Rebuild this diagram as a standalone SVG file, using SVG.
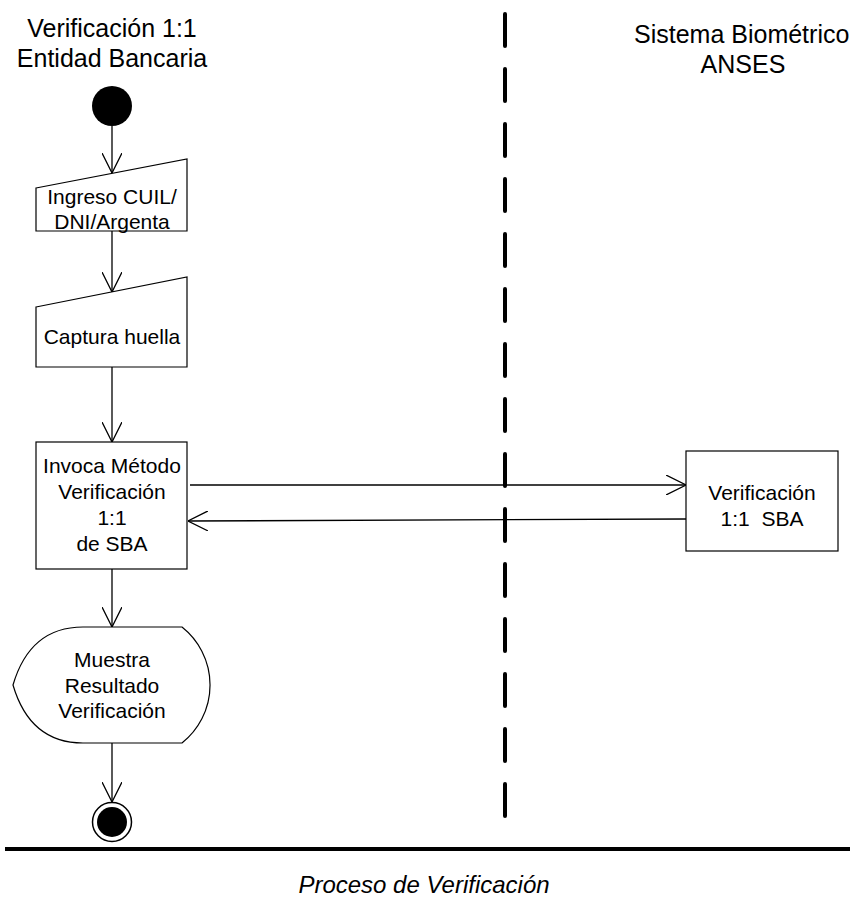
<svg xmlns="http://www.w3.org/2000/svg" width="850" height="904" viewBox="0 0 850 904" font-family="'Liberation Sans', Arial, sans-serif">
<style>
text{font-family:"Liberation Sans",Arial,sans-serif;fill:#000}
.t{font-size:25px;text-anchor:middle}
.n{font-size:21px;text-anchor:middle}
.shape{fill:#fff;stroke:#000;stroke-width:1.2}
.c{fill:none;stroke:#000;stroke-width:1.3}
</style>
<defs>
<marker id="arr" viewBox="0 0 20 20" refX="20" refY="10" markerWidth="20" markerHeight="20" markerUnits="userSpaceOnUse" orient="auto">
<path d="M0,0 L20,10 L0,20" fill="none" stroke="#000" stroke-width="1.3"/>
</marker>
</defs>
<rect width="850" height="904" fill="#fff"/>
<g id="swimlanes">
<text class="t" x="112" y="37">Verificación 1:1</text>
<text class="t" x="112" y="67">Entidad Bancaria</text>
<text class="t" x="634" y="43" style="text-anchor:start">Sistema Biométrico</text>
<text class="t" x="743" y="73">ANSES</text>
<line x1="505" y1="14" x2="505" y2="818" stroke="#000" stroke-width="4" stroke-linecap="round" stroke-dasharray="32 23"/>
<line x1="5" y1="849" x2="850" y2="849" stroke="#000" stroke-width="4"/>
<text x="424" y="893" style="font-size:24px;font-style:italic;text-anchor:middle">Proceso de Verificación</text>
</g>
<g id="start">
<circle cx="112" cy="106" r="20" fill="#000"/>
</g>
<g id="ingreso">
<path class="shape" d="M36,188 L187,159 L187,231 L36,231 Z"/>
<text class="n" x="112" y="204">Ingreso CUIL/</text>
<text class="n" x="112" y="229">DNI/Argenta</text>
</g>
<g id="captura">
<path class="shape" d="M36,307 L187,277 L187,367 L36,367 Z"/>
<text class="n" x="112" y="344">Captura huella</text>
</g>
<g id="invoca">
<rect class="shape" x="36" y="442" width="151" height="127"/>
<text class="n" x="112" y="473">Invoca Método</text>
<text class="n" x="112" y="499">Verificación</text>
<text class="n" x="112" y="525">1:1</text>
<text class="n" x="112" y="551">de SBA</text>
</g>
<g id="sba">
<rect class="shape" x="686" y="451" width="152" height="100"/>
<text class="n" x="762" y="500">Verificación</text>
<text class="n" x="762" y="526" xml:space="preserve">1:1  SBA</text>
</g>
<g id="muestra">
<path class="shape" d="M83,627 L182,627 A74,74 0 0 1 182,743 L83,743 Q30,743 13,685 Q30,627 83,627 Z"/>
<text class="n" x="112" y="667">Muestra</text>
<text class="n" x="112" y="693">Resultado</text>
<text class="n" x="112" y="718">Verificación</text>
</g>
<g id="end">
<circle cx="112" cy="822" r="19.5" fill="#fff" stroke="#000" stroke-width="1.5"/>
<circle cx="112" cy="822" r="15" fill="#000"/>
</g>
<g id="connectors">
<line class="c" x1="112" y1="126" x2="112" y2="173" marker-end="url(#arr)"/>
<line class="c" x1="112" y1="231" x2="112" y2="292" marker-end="url(#arr)"/>
<line class="c" x1="112" y1="367" x2="112" y2="442" marker-end="url(#arr)"/>
<line class="c" x1="190" y1="485" x2="686" y2="485" marker-end="url(#arr)"/>
<line class="c" x1="686" y1="519" x2="188" y2="521" marker-end="url(#arr)"/>
<line class="c" x1="112" y1="569" x2="112" y2="627" marker-end="url(#arr)"/>
<line class="c" x1="112" y1="743" x2="112" y2="802" marker-end="url(#arr)"/>
</g>
</svg>
